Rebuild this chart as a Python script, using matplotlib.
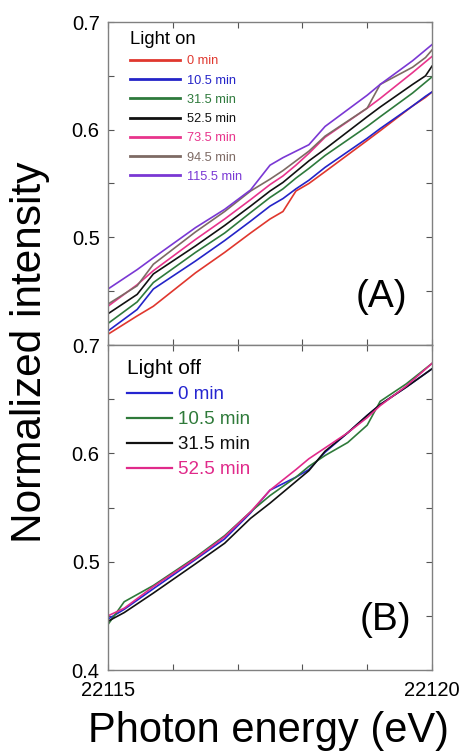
import numpy as np
import matplotlib
matplotlib.use("Agg")
import matplotlib.pyplot as plt

plt.rcParams['font.family'] = ['Liberation Sans', 'DejaVu Sans']

# ---------------- data ----------------
energy_on = [22115.0, 22115.45, 22115.7, 22116.35, 22116.8, 22117.2, 22117.5, 22117.7,
             22117.9, 22118.1, 22118.35, 22119.0, 22119.2, 22119.7, 22119.9, 22120.0]
on_labels = ["0 min", "10.5 min", "31.5 min", "52.5 min", "73.5 min", "94.5 min", "115.5 min"]
on_colors = ["#e0372e", "#2424c8", "#2e7a3c", "#111111", "#e8348c", "#7d6a64", "#7a38d4"]
on_0 = [.410, .427, .436, .467, .486, .504, .517, .524, .543, .550, .561, .590, .599, .622, .630, .635]
on_10 = [.413, .433, .452, .478, .497, .515, .529, .536, .545, .553, .565, .592, .601, .622, .631, .635]
on_31 = [.420, .440, .458, .486, .504, .523, .537, .545, .555, .564, .576, .603, .612, .634, .644, .649]
on_52 = [.429, .447, .466, .492, .511, .529, .543, .551, .561, .571, .582, .612, .621, .642, .650, .659]
on_73 = [.436, .456, .469, .498, .517, .535, .549, .557, .567, .578, .593, .620, .629, .653, .663, .668]
on_94 = [.438, .455, .475, .505, .524, .543, .554, .562, .571, .580, .594, .620, .642, .658, .667, .674]
on_115 = [.452, .470, .481, .509, .526, .544, .567, .574, .580, .586, .603, .632, .642, .664, .674, .679]
on_series = [on_0, on_10, on_31, on_52, on_73, on_94, on_115]

energy_off = [22115.0, 22115.25, 22115.7, 22116.35, 22116.8, 22117.2, 22117.5, 22117.9,
              22118.1, 22118.35, 22118.7, 22119.0, 22119.2, 22119.6, 22120.0]
off_labels = ["0 min", "10.5 min", "31.5 min", "52.5 min"]
off_colors = ["#2525d0", "#2f7a3a", "#111111", "#e02a8a"]
off_0 = [.447, .456, .475, .502, .521, .545, .566, .578, .585, .601, .619, .635, .645, .661, .678]
off_10 = [.442, .463, .478, .504, .524, .546, .561, .578, .588, .598, .610, .626, .648, .664, .683]
off_31 = [.445, .453, .471, .498, .517, .540, .554, .574, .584, .602, .619, .635, .645, .661, .678]
off_52 = [.450, .457, .477, .503, .523, .546, .566, .585, .595, .605, .619, .633, .644, .662, .683]
off_series = [off_0, off_10, off_31, off_52]

yticks = [0.4, 0.45, 0.5, 0.55, 0.6, 0.65, 0.7]
yticklabels_top = ["", "", "0.5", "", "0.6", "", "0.7"]
yticklabels_bot = ["0.4", "", "0.5", "", "0.6", "", "0.7"]
xticks = [22115, 22116, 22117, 22118, 22119, 22120]
xticklabels = ["22115", "", "", "", "", "22120"]

# ---------------- figure ----------------
W, H = 465, 753
fig = plt.figure(figsize=(W / 100, H / 100), dpi=100)
L, R = 108 / W, 432 / W
axA = fig.add_axes([L, 1 - 345 / H, R - L, (345 - 22) / H])
axB = fig.add_axes([L, 1 - 670 / H, R - L, (670 - 345) / H])

for ax in (axA, axB):
    ax.set_xlim(22115, 22120)
    ax.set_ylim(0.4, 0.7)
    ax.set_xticks(xticks)
    ax.set_yticks(yticks)
    ax.tick_params(direction="in", length=4, width=0.8, top=True, right=True,
                   labelsize=14.5, color="#555555", pad=6)
    for s in ax.spines.values():
        s.set_color("#808080")
        s.set_linewidth(1.0)

axA.set_xticklabels([""] * len(xticks))
axA.set_yticklabels(yticklabels_top)
axB.set_xticklabels(xticklabels)
axB.set_yticklabels(yticklabels_bot)
axB.tick_params(axis="x", pad=8)

for lab, col, vals in zip(on_labels, on_colors, on_series):
    axA.plot(energy_on, vals, color=col, lw=1.2, label=lab)
for lab, col, vals in zip(off_labels, off_colors, off_series):
    axB.plot(energy_off, vals, color=col, lw=1.2, label=lab)

legA = axA.legend(loc="upper left", bbox_to_anchor=(0.041, 1.0), frameon=False,
                  title="Light on", title_fontsize=13.3, fontsize=9.2,
                  labelcolor="linecolor", handlelength=3.9, handletextpad=0.55,
                  labelspacing=0.57, borderaxespad=0.3, alignment="left")
for ln in legA.get_lines():
    ln.set_linewidth(2.0)

legB = axB.legend(loc="upper left", bbox_to_anchor=(0.015, 1.0), frameon=False,
                  title="Light off", title_fontsize=15, fontsize=13.5,
                  labelcolor="linecolor", handlelength=2.4, handletextpad=0.32,
                  labelspacing=0.42, borderaxespad=0.36, alignment="left")
for ln in legB.get_lines():
    ln.set_linewidth(1.6)

axA.text(0.843, 0.149, "(A)", transform=axA.transAxes, fontsize=28,
         ha="center", va="center")
axB.text(0.855, 0.154, "(B)", transform=axB.transAxes, fontsize=28,
         ha="center", va="center")

fig.text(30 / W, 1 - 352 / H, "Normalized intensity", rotation=90,
         fontsize=30.5, ha="center", va="center")
fig.text(268 / W, 1 - 742 / H, "Photon energy (eV)", fontsize=30,
         ha="center", va="baseline")

fig.savefig("out.png", dpi=100)
